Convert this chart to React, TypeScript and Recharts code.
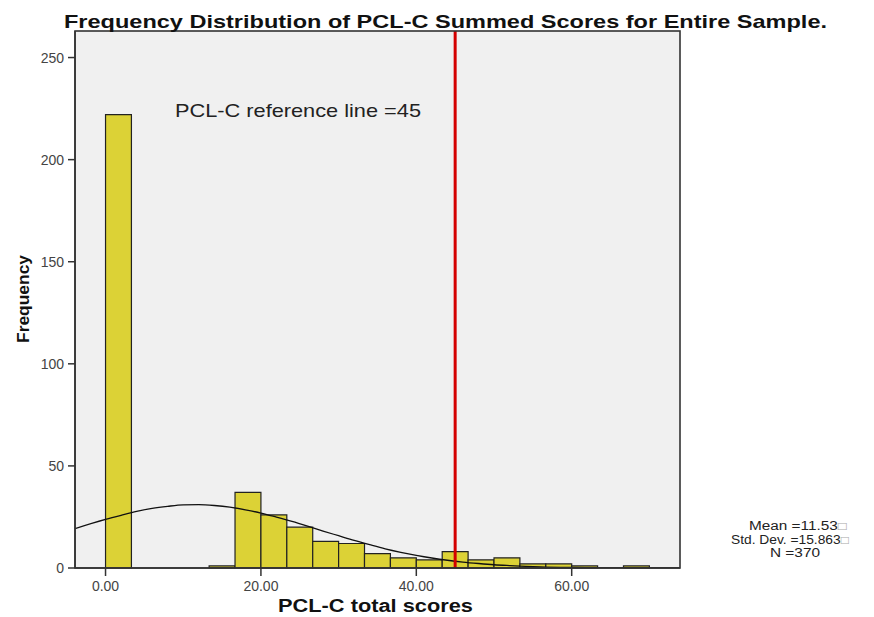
import React from 'react';
import { ComposedChart, XAxis, YAxis, Line, ReferenceArea, ReferenceLine, CartesianGrid } from 'recharts';

// Histogram bins (PCL-C total scores), bin width 10/3
const binLow = [0, 3.333, 6.667, 10, 13.333, 16.667, 20, 23.333, 26.667, 30, 33.333, 36.667, 40, 43.333, 46.667, 50, 53.333, 56.667, 60, 63.333, 66.667];
const binHigh = [3.333, 6.667, 10, 13.333, 16.667, 20, 23.333, 26.667, 30, 33.333, 36.667, 40, 43.333, 46.667, 50, 53.333, 56.667, 60, 63.333, 66.667, 70];
const counts = [222, 0, 0, 0, 1, 37, 26, 20, 13, 12, 7, 5, 4, 8, 4, 5, 2, 2, 1, 0, 1];

// Normal curve
const curveX = [-3.93, 0, 2, 4, 6, 8, 10, 12, 14, 16, 18, 20, 22, 24, 26, 28, 30, 32, 34, 36, 38, 40, 42, 44, 46, 48, 50, 52, 56, 60, 64, 68, 73.94];
const curveY = [19.3, 23.8, 25.8, 27.7, 29.2, 30.2, 30.9, 31.0, 30.6, 29.8, 28.5, 26.9, 24.9, 22.8, 20.5, 18.1, 15.8, 13.5, 11.4, 9.4, 7.7, 6.2, 4.9, 3.8, 2.9, 2.2, 1.6, 1.2, 0.6, 0.3, 0.13, 0.05, 0.01];

const xTicks = [0, 20, 40, 60];
const yTicks = [0, 50, 100, 150, 200, 250];
const referenceValue = 45;
const xDomain = [-3.93, 73.94];
const yDomain = [0, 263];

const curveData = curveX.map((x, i) => ({ x, y: curveY[i] }));
const bins = binLow.map((lo, i) => ({ lo, hi: binHigh[i], n: counts[i] })).filter(b => b.n > 0);

const FONT = '"Liberation Sans", Arial, sans-serif';

export default function App() {
  return (
    <div style={{ position: 'absolute', left: 0, top: 0, width: 874, height: 617, background: '#fff' }}>
      <ComposedChart width={874} height={617} data={curveData} margin={{ top: 31, right: 194, bottom: 0, left: 0 }}>
        <CartesianGrid fill="#f0f0f0" horizontal={false} vertical={false} />
        <XAxis
          dataKey="x"
          type="number"
          domain={xDomain}
          ticks={xTicks}
          allowDataOverflow
          height={49}
          tickSize={8}
          tickMargin={5}
          tickFormatter={(v: number) => v.toFixed(2)}
          tick={{ fill: '#444', fontSize: 14, fontFamily: FONT }}
          stroke="#333"
          strokeWidth={1.5}
        />
        <YAxis
          type="number"
          domain={yDomain}
          ticks={yTicks}
          allowDataOverflow
          width={75}
          tickSize={7}
          tickMargin={4}
          tick={{ fill: '#444', fontSize: 14, fontFamily: FONT }}
          stroke="#333"
          strokeWidth={1.5}
        />
        {bins.map((b, i) => (
          <ReferenceArea key={i} x1={b.lo} x2={b.hi} y1={0} y2={b.n} fill="#dcd236" fillOpacity={1} stroke="#222" strokeWidth={1.2} />
        ))}
        <Line data={curveData} dataKey="y" type="monotone" stroke="#111" strokeWidth={1.3} dot={false} activeDot={false} isAnimationActive={false} />
        <ReferenceLine x={referenceValue} stroke="#d40000" strokeWidth={3} />
      </ComposedChart>
      <svg width={874} height={617} style={{ position: 'absolute', left: 0, top: 0, pointerEvents: 'none' }} fontFamily={FONT}>
        <rect x={75} y={31} width={605} height={537} fill="none" stroke="#333" strokeWidth={1.6} />
        <text x={64} y={28} fontSize={19} fontWeight="bold" fill="#111" textLength={763} lengthAdjust="spacingAndGlyphs">
          Frequency Distribution of PCL-C Summed Scores for Entire Sample.
        </text>
        <text x={175} y={117} fontSize={19} fill="#222" textLength={246} lengthAdjust="spacingAndGlyphs">
          PCL-C reference line =45
        </text>
        <text x={278} y={612} fontSize={17.5} fontWeight="bold" fill="#111" textLength={195} lengthAdjust="spacingAndGlyphs">
          PCL-C total scores
        </text>
        <text x={29} y={299} fontSize={17} fontWeight="bold" fill="#111" textAnchor="middle" transform="rotate(-90, 29, 299)" textLength={88} lengthAdjust="spacingAndGlyphs">
          Frequency
        </text>
        <text x={749} y={530} fontSize={12} fill="#222" textLength={98} lengthAdjust="spacingAndGlyphs">
          Mean =11.53<tspan fill="#aaa">□</tspan>
        </text>
        <text x={731} y={544} fontSize={12} fill="#222" textLength={118} lengthAdjust="spacingAndGlyphs">
          Std. Dev. =15.863<tspan fill="#aaa">□</tspan>
        </text>
        <text x={770} y={557} fontSize={12} fill="#222" textLength={50} lengthAdjust="spacingAndGlyphs">
          N =370
        </text>
      </svg>
    </div>
  );
}
